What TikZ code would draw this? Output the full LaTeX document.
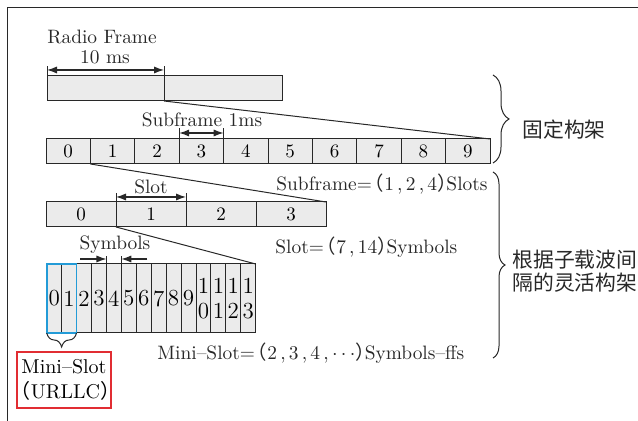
\documentclass[tikz,border=0pt]{standalone}
\usepackage{fontspec}
\newfontfamily\cjk{Noto Sans CJK SC}
\usetikzlibrary{arrows.meta,decorations.pathreplacing,positioning}

\definecolor{slotblue}{RGB}{35,155,215}
\definecolor{boxred}{RGB}{225,45,50}
\definecolor{inkgray}{RGB}{40,40,40}

% tight full-width brackets
\newcommand\lpar{\kern-3.5pt{\cjk （}}
\newcommand\rpar{{\cjk ）}\kern-5pt}

\tikzset{
    cell/.style={draw=inkgray, fill=black!8, line width=0.5pt, inner sep=0pt,
        outer sep=0pt, anchor=north west, minimum height=12.5pt,
        font=\fontsize{9.5}{11}\selectfont},
    symcell/.style={cell, minimum width=7.465pt, minimum height=34.5pt,
        align=center, font=\fontsize{11.5}{12.5}\selectfont},
    lbl/.style={inner sep=0pt, text=inkgray, font=\fontsize{9.7}{11}\selectfont},
    cjklbl/.style={inner sep=0pt, text=inkgray, align=left,
        font=\cjk\fontsize{10.4}{11.5}\selectfont},
    zoomline/.style={draw=inkgray, line width=0.5pt},
    tick/.style={draw=inkgray, line width=0.5pt},
    dimarrow/.style={draw=inkgray, line width=0.6pt,
        {Latex[length=5pt,width=3.6pt]}-{Latex[length=5pt,width=3.6pt]}},
    inarrow/.style={draw=inkgray, line width=0.6pt,
        -{Latex[length=5pt,width=3.6pt]}},
    brc/.style={draw=inkgray, line width=0.5pt, decorate},
    minibox/.style={draw=boxred, line width=0.7pt, minimum width=47pt,
        minimum height=28pt, inner sep=0pt, align=center,
        font=\fontsize{10}{12.5}\selectfont}
}

\begin{document}
\begin{tikzpicture}[x=0.5pt,y=-0.5pt]

    \useasboundingbox (0,0) rectangle (638,421);

    % outer frame (only the top and left edges are in view)
    \draw[inkgray, line width=0.8pt] (638,7.5) -- (7.5,7.5) -- (7.5,421);

    % radio frame: two halves
    \node[cell, minimum width=58.5pt] (rf0) at (47,76) {};
    \node[cell, minimum width=59pt, right=0pt of rf0] (rf1) {};

    % subframes 0..9
    \foreach \i in {0,...,9}
        \node[cell, minimum width=22.2pt] (sf\i) at (46+\i*44.4,139) {\i};

    % slots 0..3
    \foreach \i in {0,...,3}
        \node[cell, minimum width=35pt] (sl\i) at (46+\i*70,202) {\i};

    % symbols 0..13
    \foreach \i in {0,...,9}
        \node[symcell] (sy\i) at (46.7+\i*14.93,264) {\i};
    \foreach \i [evaluate=\i as \j using int(\i-10)] in {10,...,13}
        \node[symcell] (sy\i) at (46.7+\i*14.93,264) {1\\\j};

    % zoom lines between the rows
    \draw[zoomline] (rf0.south east) -- (sf9.north east);
    \draw[zoomline] (sf0.south east) -- (sl3.north east);
    \draw[zoomline] (sl0.south east) -- (sy13.north east);

    % 10 ms
    \draw[tick] (rf0.north west) -- ++(0,-10);
    \draw[tick] (rf0.north east) -- ++(0,-10);
    \draw[dimarrow] ([yshift=3pt]rf0.north west) -- ([yshift=3pt]rf0.north east);
    \node[lbl] (rflbl) at (102,37) {Radio Frame};
    \node[lbl] (rfms) at (105,57) {10 ms};

    % 1 ms
    \draw[tick] (sf3.north west) -- ++(0,-11);
    \draw[tick] (sf3.north east) -- ++(0,-11);
    \draw[dimarrow] ([yshift=3pt]sf3.north west) -- ([yshift=3pt]sf3.north east);
    \node[lbl] (sflbl) at (202,120) {Subframe 1ms};

    % slot
    \draw[tick] (sl1.north west) -- ++(0,-9);
    \draw[tick] (sl1.north east) -- ++(0,-9);
    \draw[dimarrow] ([yshift=2.5pt]sl1.north west) -- ([yshift=2.5pt]sl1.north east);
    \node[lbl] (sllbl) at (151,187) {Slot};

    % one symbol
    \draw[tick] (sy4.north west) -- ++(0,-8);
    \draw[tick] (sy4.north east) -- ++(0,-8);
    \draw[inarrow] ([xshift=-13pt,yshift=2.5pt]sy4.north west) -- ([yshift=2.5pt]sy4.north west);
    \draw[inarrow] ([xshift=13pt,yshift=2.5pt]sy4.north east) -- ([yshift=2.5pt]sy4.north east);
    \node[lbl] (symlbl) at (115,245) {Symbols};

    % row notes
    \node[lbl, anchor=west] (sfeq) at (276,184) {Subframe=\lpar 1\,,\,2\,,\,4\rpar Slots};
    \node[lbl, anchor=west] (sleq) at (275,247) {Slot=\lpar 7\,,\,14\rpar Symbols};
    \node[lbl, anchor=west] (mseq) at (157,353) {Mini--Slot=\lpar 2\,,\,3\,,\,4\,,\,$\cdots$\rpar Symbols--ffs};

    % mini-slot
    \draw[slotblue, line width=0.9pt] (sy0.north west) rectangle (sy1.south east);
    \draw[brc, decoration={brace, amplitude=7pt}] (sy1.south east) -- (sy0.south west);
    \node[minibox] (mini) at (64,380) {Mini--Slot\\\lpar URLLC\rpar};

    % right-hand braces
    \draw[brc, decoration={brace, amplitude=8pt}] (493,75) -- (493,163);
    \node[cjklbl, anchor=west] (fixed) at (522,130) {固定构架};
    \draw[brc, decoration={brace, amplitude=6pt}] (493,172) -- (493,358);
    \node[cjklbl, anchor=west] (flex) at (512,271) {根据子载波间\\隔的灵活构架};

\end{tikzpicture}
\end{document}
